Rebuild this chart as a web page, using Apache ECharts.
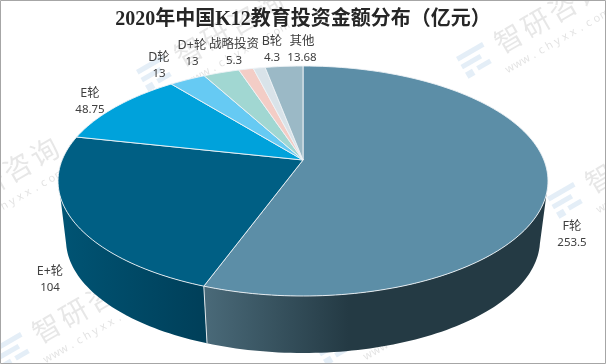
<!DOCTYPE html>
<html><head><meta charset="utf-8">
<style>html,body{margin:0;padding:0;background:#fff}#c{width:606px;height:364px}</style>
<script src="https://cdn.jsdelivr.net/npm/echarts@6/dist/echarts.min.js"></script>
</head><body><div id="c"></div>
<script>
const titleText = '2020年中国K12教育投资金额分布（亿元）';
const categories = ['F轮','E+轮','E轮','D轮','D+轮','战略投资','B轮','其他'];
const values = [253.5,104,48.75,13,13,5.3,4.3,13.68];
const valueLabels = ['253.5','104','48.75','13','13','5.3','4.3','13.68'];

const topColors = ['#5c8ea7','#005f84','#00a2db','#66caf3','#a1d7d2','#f3cdc6','#d9e3e9','#9bb9c6'];
const labelPos = [[572,226],[50,271],[90,93],[159,57],[192,45],[234,44],[272,41],[302,41]];
const topE = {cx:303,cy:181,rx:245,ry:115};
const botE = {cx:303,cy:240,rx:237,ry:113};
const apex = [303,160];
const total = values.reduce((a,b)=>a+b,0);
const warp = d => d - 10.2*Math.sin(d*Math.PI/180);
const pt = (e,d) => [e.cx+e.rx*Math.sin(d*Math.PI/180), e.cy-e.ry*Math.cos(d*Math.PI/180)];
function arc(e,a,b){const n=Math.max(2,Math.ceil(Math.abs(b-a)/1.5)),r=[];for(let i=0;i<=n;i++)r.push(pt(e,a+(b-a)*i/n));return r;}
const sideStyle = [
  {ta:96,tb:null,ba:92,grad:[[0,'#4a6a79'],[0.42,'#243a44'],[1,'#243a44']],x0:204,x1:548},
  {ta:null,tb:262,bb:268,grad:[[0,'#005474'],[1,'#003f59']],x0:60,x1:205}
];
function renderItem(params,api){
  const i=params.dataIndex; let before=0;
  for(let k=0;k<i;k++) before+=values[k];
  const a=warp(before/total*360), b=warp((before+api.value(0))/total*360);
  const children=[];
  const s=sideStyle[i];
  if(s){
    const ta=s.ta==null?a:s.ta, tb=s.tb==null?b:s.tb;
    const ba=s.ba==null?a:s.ba, bb=s.bb==null?b:s.bb;
    children.push({type:'polygon',shape:{points:arc(topE,ta,tb).concat(arc(botE,bb,ba))},
      style:{fill:new echarts.graphic.LinearGradient(s.x0,0,s.x1,0,s.grad.map(g=>({offset:g[0],color:g[1]})),true)}});
  }
  if(i===1){ // seam between the two walls
    children.push({type:'line',shape:{x1:pt(topE,a)[0],y1:pt(topE,a)[1],x2:pt(botE,a)[0],y2:pt(botE,a)[1]},style:{stroke:'#dfe6ea',lineWidth:1}});
  }
  children.push({type:'polygon',shape:{points:[apex].concat(arc(topE,a,b))},
    style:{fill:topColors[i],stroke:'#eef3f6',lineWidth:0.9,lineJoin:'round'}});
  const p=labelPos[i];
  const nameFont='12.5px "Noto Sans","Noto Sans CJK SC",sans-serif';
  const valFont='11.5px "Noto Sans","Noto Sans CJK SC",sans-serif';
  children.push({type:'text',z2:10,style:{text:categories[i],x:p[0],y:p[1],align:'center',verticalAlign:'middle',font:nameFont,fill:'#404040'}});
  children.push({type:'text',z2:10,style:{text:valueLabels[i],x:p[0],y:p[1]+17,align:'center',verticalAlign:'middle',font:valFont,fill:'#404040'}});
  return {type:'group',children};
}
// faint repeated source watermark
const wmOrigins=[[155,73],[475,60],[240,210],[566,200],[13,350],[333,347],[-70,220]];
const wmChars=['智','研','咨','询'];
const wmUrl='www.chyxx.com'.split('');
function watermark(o){
  const ch=[];
  const logo='rgba(120,170,215,0.20)';
  ch.push({type:'rect',shape:{x:-15,y:-12,width:30,height:5},style:{fill:logo}});
  ch.push({type:'rect',shape:{x:-15,y:-3,width:22,height:5},style:{fill:logo}});
  ch.push({type:'rect',shape:{x:-15,y:6,width:8,height:7},style:{fill:logo}});
  ch.push({type:'rect',shape:{x:-2,y:6,width:15,height:5},style:{fill:logo}});
  wmChars.forEach((c,k)=>ch.push({type:'text',style:{text:c,x:40+k*31,y:-2,align:'center',verticalAlign:'middle',font:'28px "Noto Sans CJK SC"',fill:'rgba(95,95,95,0.15)'}}));
  wmUrl.forEach((c,k)=>ch.push({type:'text',style:{text:c,x:26+k*9.1,y:25,align:'center',verticalAlign:'middle',font:'11px "Noto Sans"',fill:'rgba(95,95,95,0.18)'}}));
  return {type:'group',x:o[0],y:o[1],rotation:Math.PI/6,silent:true,z:20,children:ch};
}
const chart=echarts.init(document.getElementById('c'),null,{renderer:'canvas'});
chart.setOption({
  animation:false,
  backgroundColor:'#ffffff',
  title:{text:titleText,left:'center',top:5,textStyle:{fontFamily:'"Liberation Serif","Noto Sans CJK SC",serif',fontWeight:'bold',fontSize:20,color:'#262626'}},
  series:[{type:'custom',coordinateSystem:'none',renderItem,data:values.map(v=>[v]),clip:false,silent:true,z:2}],
  graphic:{elements:wmOrigins.map(watermark).concat([
    {type:'rect',z:30,silent:true,shape:{x:0.5,y:0.5,width:605,height:363},style:{fill:'none',stroke:'#a6a6a6',lineWidth:1}}
  ])}
});
</script></body></html>
